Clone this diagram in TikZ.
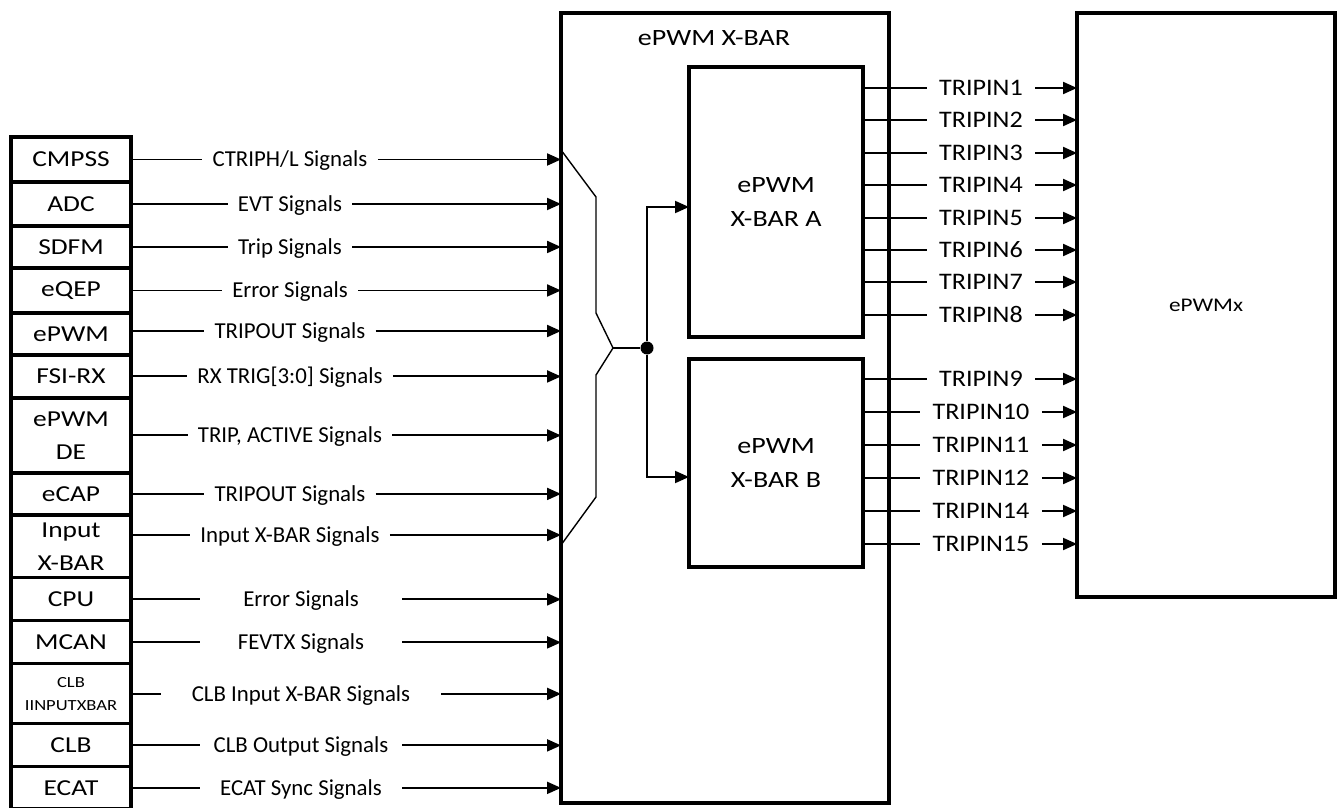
\documentclass[tikz,border=0pt]{standalone}
\usepackage{fontspec}
\setmainfont{Carlito}
\newfontfamily\boxfont{Carlito}[FakeStretch=1.2]
\newfontfamily\tripfont{Carlito}[FakeStretch=1.1]
\usetikzlibrary{
  arrows.meta,%
  positioning,%
  calc
}
\tikzset{>={Triangle[length=0.28cm,width=0.24cm]}}
\tikzset{font=\fontsize{13}{15}\selectfont}

\begin{document}
\begin{tikzpicture}[x=0.02cm, y=-0.02cm,
    blk/.style={draw, line width=1.8pt, inner sep=0pt, outer sep=0pt},
    src/.style={blk, minimum width=2.4cm, align=center,
      font=\boxfont\fontsize{13}{19}\selectfont},
    sig/.style={inner ysep=0pt, inner xsep=0.2cm, text height=8.4pt,
      text depth=0pt, font=\fontsize{13}{15}\selectfont},
    sigw/.style={sig, inner xsep=0pt, minimum width=4.04cm},
    tripin/.style={inner ysep=0pt, inner xsep=0.24cm, text height=8.7pt,
      text depth=0pt, font=\tripfont\fontsize{13.5}{16}\selectfont},
    wire/.style={line width=1.1pt},
    dot/.style={circle, fill, inner sep=0pt, minimum size=0.26cm}]
  \useasboundingbox (0,0) rectangle (1337,807);%
  % source modules, stacked
  \node[src, minimum height=0.90cm, anchor=north] (cmpss) at (71,137) {CMPSS};%
  \node[src, minimum height=0.88cm, below=0pt of cmpss] (adc) {ADC};%
  \node[src, minimum height=0.84cm, below=0pt of adc] (sdfm) {SDFM};%
  \node[src, minimum height=0.90cm, below=0pt of sdfm] (eqep) {eQEP};%
  \node[src, minimum height=0.84cm, below=0pt of eqep] (epwm) {ePWM};%
  \node[src, minimum height=0.86cm, below=0pt of epwm] (fsirx) {FSI-RX};%
  \node[src, minimum height=1.50cm, below=0pt of fsirx] (epwmde) {ePWM\\DE};%
  \node[src, minimum height=0.84cm, below=0pt of epwmde] (ecap) {eCAP};%
  \node[src, minimum height=1.26cm, below=0pt of ecap] (inxbar) {Input\\X-BAR};%
  \node[src, minimum height=0.86cm, below=0pt of inxbar] (cpu) {CPU};%
  \node[src, minimum height=0.86cm, below=0pt of cpu] (mcan) {MCAN};%
  \node[src, minimum height=1.20cm, below=0pt of mcan,
    font=\boxfont\fontsize{8.8}{13}\selectfont] (clbin) {CLB\\IINPUTXBAR};%
  \node[src, minimum height=0.86cm, below=0pt of clbin] (clb) {CLB};%
  \node[src, minimum height=0.84cm, below=0pt of clb] (ecat) {ECAT};%
  % crossbar and its two halves
  \node[blk, minimum width=6.56cm, minimum height=15.8cm] (xbar) at (725,408) {};%
  \node[font=\boxfont\fontsize{13.3}{19}\selectfont] (xbartitle) at (714,38) {ePWM X-BAR};%
  \node[blk, minimum width=3.48cm, minimum height=5.4cm, align=center,
    font=\boxfont\fontsize{13.3}{19}\selectfont] (xa) at (776,202) {ePWM\\X-BAR A};%
  \node[blk, minimum width=3.48cm, minimum height=4.16cm, align=center,
    font=\boxfont\fontsize{13.3}{19}\selectfont] (xb) at (776,463) {ePWM\\X-BAR B};%
  \node[blk, minimum width=5.16cm, minimum height=11.68cm,
    font=\boxfont\fontsize{11}{13}\selectfont] (epwmx) at (1206,305) {ePWMx};%
  % signal labels
  \node[sig] (cmpss-sig) at (290,0 |- cmpss) {CTRIPH/L Signals};%
  \node[sig] (adc-sig) at (290,0 |- adc) {EVT Signals};%
  \node[sig] (sdfm-sig) at (290,0 |- sdfm) {Trip Signals};%
  \node[sig] (eqep-sig) at (290,0 |- eqep) {Error Signals};%
  \node[sig] (epwm-sig) at (290,331) {TRIPOUT Signals};%
  \node[sig] (fsirx-sig) at (290,0 |- fsirx) {RX TRIG[3:0] Signals};%
  \node[sig] (epwmde-sig) at (290,0 |- epwmde) {TRIP, ACTIVE Signals};%
  \node[sig] (ecap-sig) at (290,0 |- ecap) {TRIPOUT Signals};%
  \node[sig] (inxbar-sig) at (290,535) {Input X-BAR Signals};%
  \node[sigw] (cpu-sig) at (301,0 |- cpu) {Error Signals};%
  \node[sigw] (mcan-sig) at (301,0 |- mcan) {FEVTX Signals};%
  \node[sigw, minimum width=5.6cm] (clbin-sig) at (301,0 |- clbin) {CLB Input X-BAR Signals};%
  \node[sigw] (clb-sig) at (301,0 |- clb) {CLB Output Signals};%
  \node[sigw] (ecat-sig) at (301,0 |- ecat) {ECAT Sync Signals};%
  \foreach \s in {cmpss, adc, sdfm, eqep, epwm, fsirx, epwmde, ecap, inxbar,
    cpu, mcan, clbin, clb, ecat} {%
    \draw[wire] (\s.east |- \s-sig) -- (\s-sig.west);%
    \draw[wire, ->] (\s-sig.east) -- (\s-sig -| xbar.west);%
  }
  % merge of the first nine inputs
  \coordinate (mtip) at (613,348);%
  \node[dot] (junc) at (647,348) {};%
  \draw[line width=0.8pt] (xbar.west |- 0,150) -- (596,197) -- (596,313) -- (mtip)
    -- (596,375) -- (596,497) -- (xbar.west |- 0,545);%
  \draw[wire] (mtip) -- (junc);%
  \draw[wire, ->] (junc) |- ([yshift=-0.1cm]xa.west);%
  \draw[wire, ->] (junc) |- ([yshift=-0.28cm]xb.west);%
  % trip inputs
  \foreach \n/\y in {1/88, 2/120, 3/153, 4/185, 5/218, 6/250, 7/282, 8/315} {%
    \node[tripin] (tp\n) at (981,\y) {TRIPIN\n};%
    \draw[wire] (xa.east |- tp\n) -- (tp\n.west);%
    \draw[wire, ->] (tp\n.east) -- (tp\n -| epwmx.west);%
  }
  \foreach \n/\y in {9/379, 10/412, 11/445, 12/478, 14/511, 15/544} {%
    \node[tripin] (tp\n) at (981,\y) {TRIPIN\n};%
    \draw[wire] (xb.east |- tp\n) -- (tp\n.west);%
    \draw[wire, ->] (tp\n.east) -- (tp\n -| epwmx.west);%
  }
\end{tikzpicture}
\end{document}
